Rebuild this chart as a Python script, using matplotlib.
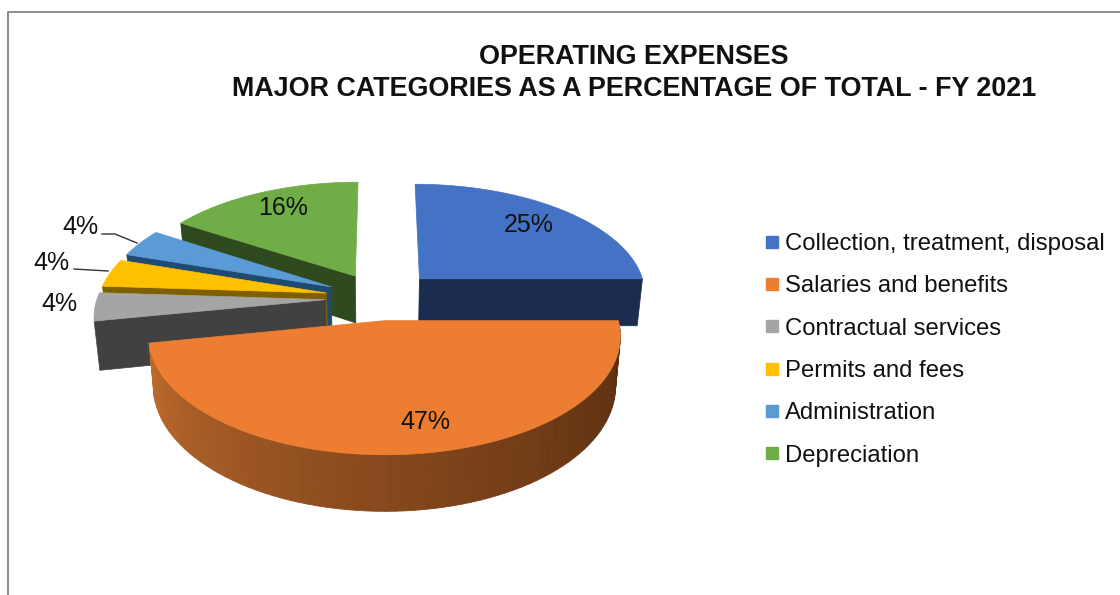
import numpy as np
import matplotlib
matplotlib.use('Agg')
import matplotlib.pyplot as plt
from matplotlib.lines import Line2D

plt.rcParams['font.family'] = ['Liberation Sans', 'DejaVu Sans']

categories = ['Collection, treatment, disposal', 'Salaries and benefits', 'Contractual services',
              'Permits and fees', 'Administration', 'Depreciation']
values = [25, 47, 4, 4, 4, 16]
top_colors = ['#4472c4', '#ed7d31', '#a5a5a5', '#ffc000', '#5b9bd5', '#70ad47']
face_colors = ['#1a2c50', '#5f3111', '#414141', '#7f6000', '#204a72', '#2f4a1f']
explode = [0.25, 0.2, 0.24, 0.24, 0.24, 0.23]
label_xy = [(529, 224), (425, 421), (59, 303), (51, 262), (80, 226), (283, 207)]

# pie plane -> pixels, a bit of perspective so the front looks bigger
cx, cy = 380, 298
rx, ry = 228, 111
persp = 0.126
depth = 48


def project(u, v, low=False):
    w = 1 + persp * v
    x = rx * u / w
    y = ry * v / w
    if low:
        return cx + x * 0.98, cy - y + depth / w
    return cx + x, cy - y


def arc(a1, a2, ox, oy, n=80):
    t = np.radians(np.linspace(a1, a2, n))
    return ox + np.cos(t), oy + np.sin(t)


fig = plt.figure(figsize=(11.2, 5.95), dpi=100)
ax = fig.add_axes([0, 0, 1, 1])
ax.set_xlim(0, 1120)
ax.set_ylim(595, 0)
ax.axis('off')

# frame of the pasted chart
ax.plot([8, 8, 1120], [595, 12, 12], color='#8c8c8c', lw=1.4, zorder=1)

ends = 90 - 360 * np.cumsum(values) / np.sum(values)
starts = np.r_[90, ends[:-1]]
draw_order = [0, 5, 4, 3, 2, 1]

for z, i in enumerate(draw_order):
    a1, a2 = starts[i], ends[i]
    mid = np.radians((a1 + a2) / 2)
    ox, oy = explode[i] * np.cos(mid), explode[i] * np.sin(mid)
    u, v = arc(a1, a2, ox, oy)
    base = 10 + z * 5

    xt, yt = project(u, v)
    xb, yb = project(u, v, low=True)
    theta = np.linspace(a1, a2, len(u))

    # only the big slice shows its outer wall
    if i == 1:
        for k in range(len(u) - 1):
            if np.sin(np.radians(theta[k])) > 0.02:
                continue
            f = np.clip(-(theta[k] + 5) / 160, 0, 1)
            c1, c2 = np.array([0x5c, 0x2f, 0x10]), np.array([0xbd, 0x6a, 0x2d])
            col = (c1 + (c2 - c1) * f ** 1.3) / 255
            ax.fill([xt[k], xt[k + 1], xb[k + 1], xb[k]], [yt[k], yt[k + 1], yb[k + 1], yb[k]],
                    color=col, lw=0.6, zorder=base)

    # cut face on the side of the slice that looks at us
    ax_, ay_ = project(np.array([ox]), np.array([oy]))
    bx_, by_ = project(np.array([ox]), np.array([oy]), low=True)
    if i != 1:
        e = -1 if i == 0 else 0
        ax.fill([ax_[0], xt[e], xb[e], bx_[0]], [ay_[0], yt[e], yb[e], by_[0]],
                color=face_colors[i], lw=0.5, zorder=base + 1)

    # top of the slice
    ax.fill(np.r_[ax_, xt], np.r_[ay_, yt], color=top_colors[i], lw=0.5, zorder=base + 2)

for val, (x, y) in zip(values, label_xy):
    ax.text(x, y + 1, f'{val}%', fontsize=18, color='#111111', ha='center', va='center', zorder=60)

# leader lines of the small labels
ax.plot([102, 115, 137], [234, 234, 243], color='#333333', lw=1, zorder=5)
ax.plot([74, 108], [269, 271], color='#333333', lw=1, zorder=5)

ax.text(634, 57, 'OPERATING EXPENSES', fontsize=19.4, fontweight='bold', color='#111111',
        ha='center', va='center')
ax.text(634, 89, 'MAJOR CATEGORIES AS A PERCENTAGE OF TOTAL - FY 2021', fontsize=19.4, fontweight='bold',
        color='#111111', ha='center', va='center')

handles = [Line2D([], [], ls='none', marker='s', ms=8, color=c) for c in top_colors]
ax.legend(handles, categories, loc='upper left', bbox_to_anchor=(765 / 1120, 1 - 233 / 595), frameon=False,
          fontsize=17.2, labelspacing=0.85, handlelength=0.6, handletextpad=0.25, borderpad=0, borderaxespad=0,
          labelcolor='#111111')

fig.savefig('out.png', dpi=100)
